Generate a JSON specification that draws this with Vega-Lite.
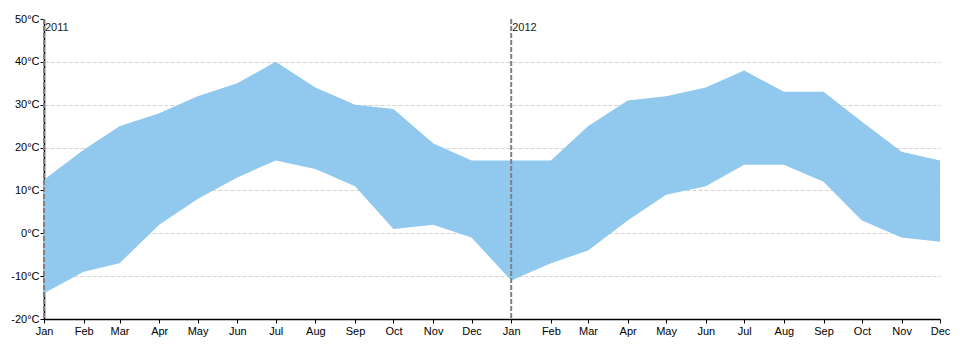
{
  "$schema": "https://vega.github.io/schema/vega-lite/v6.json",
  "width": 896,
  "height": 300,
  "autosize": "none",
  "padding": {"left": 44, "top": 19, "right": 22, "bottom": 32},
  "config": {
    "view": {"stroke": null},
    "font": "Liberation Sans",
    "axis": {"labelFont": "Liberation Sans", "labelFontSize": 11, "labelColor": "#000000", "domainColor": "#000000", "tickColor": "#000000"}
  },
  "datasets": {
    "temps": [
      {"date": "2011-01-01T00:00:00", "low": -14, "high": 12.5},
      {"date": "2011-02-01T00:00:00", "low": -9, "high": 19.5},
      {"date": "2011-03-01T00:00:00", "low": -7, "high": 25},
      {"date": "2011-04-01T00:00:00", "low": 2, "high": 28},
      {"date": "2011-05-01T00:00:00", "low": 8, "high": 32},
      {"date": "2011-06-01T00:00:00", "low": 13, "high": 35},
      {"date": "2011-07-01T00:00:00", "low": 17, "high": 40},
      {"date": "2011-08-01T00:00:00", "low": 15, "high": 34},
      {"date": "2011-09-01T00:00:00", "low": 11, "high": 30},
      {"date": "2011-10-01T00:00:00", "low": 1, "high": 29},
      {"date": "2011-11-01T00:00:00", "low": 2, "high": 21},
      {"date": "2011-12-01T00:00:00", "low": -1, "high": 17},
      {"date": "2012-01-01T00:00:00", "low": -11, "high": 17},
      {"date": "2012-02-01T00:00:00", "low": -7, "high": 17},
      {"date": "2012-03-01T00:00:00", "low": -4, "high": 25},
      {"date": "2012-04-01T00:00:00", "low": 3, "high": 31},
      {"date": "2012-05-01T00:00:00", "low": 9, "high": 32},
      {"date": "2012-06-01T00:00:00", "low": 11, "high": 34},
      {"date": "2012-07-01T00:00:00", "low": 16, "high": 38},
      {"date": "2012-08-01T00:00:00", "low": 16, "high": 33},
      {"date": "2012-09-01T00:00:00", "low": 12, "high": 33},
      {"date": "2012-10-01T00:00:00", "low": 3, "high": 26},
      {"date": "2012-11-01T00:00:00", "low": -1, "high": 19},
      {"date": "2012-12-01T00:00:00", "low": -2, "high": 17}
    ],
    "years": [
      {"date": "2011-01-01T00:00:00", "label": "2011", "top": 50},
      {"date": "2012-01-01T00:00:00", "label": "2012", "top": 50}
    ]
  },
  "layer": [
    {
      "data": {"name": "temps"},
      "mark": {"type": "area", "color": "#90C8EE", "opacity": 1},
      "encoding": {
        "x": {
          "field": "date", "type": "temporal",
          "scale": {"domain": [{"year": 2011, "month": 1, "date": 1}, {"year": 2012, "month": 12, "date": 1}], "nice": false},
          "axis": {
            "title": null, "format": "%b", "tickCount": {"interval": "month", "step": 1},
            "grid": false, "tickSize": 4, "labelPadding": 2, "labelFlush": false, "labelOverlap": false, "domainWidth": 1.5
          }
        },
        "y": {
          "field": "low", "type": "quantitative",
          "scale": {"domain": [-20, 50], "nice": false, "zero": false},
          "axis": {
            "title": null, "values": [-20, -10, 0, 10, 20, 30, 40, 50],
            "labelExpr": "datum.value + '°C'", "tickSize": 4, "labelPadding": 1,
            "grid": true, "gridDash": [4, 2], "gridColor": "#d3d3d3", "gridWidth": 1,
            "gridOpacity": {"condition": {"test": "datum.value == 50 || datum.value == -20", "value": 0}, "value": 1},
            "domainWidth": 1.5, "labelFlush": false
          }
        },
        "y2": {"field": "high"}
      }
    },
    {
      "data": {"name": "years"},
      "mark": {"type": "rule", "color": "#808080", "strokeDash": [5, 2], "strokeWidth": 2},
      "encoding": {"x": {"field": "date", "type": "temporal"}}
    },
    {
      "data": {"name": "years"},
      "mark": {"type": "text", "align": "left", "baseline": "top", "dx": 1, "dy": 3, "fontSize": 11, "color": "#222222", "font": "Liberation Sans"},
      "encoding": {
        "x": {"field": "date", "type": "temporal"},
        "y": {"field": "top", "type": "quantitative"},
        "text": {"field": "label"}
      }
    }
  ]
}
